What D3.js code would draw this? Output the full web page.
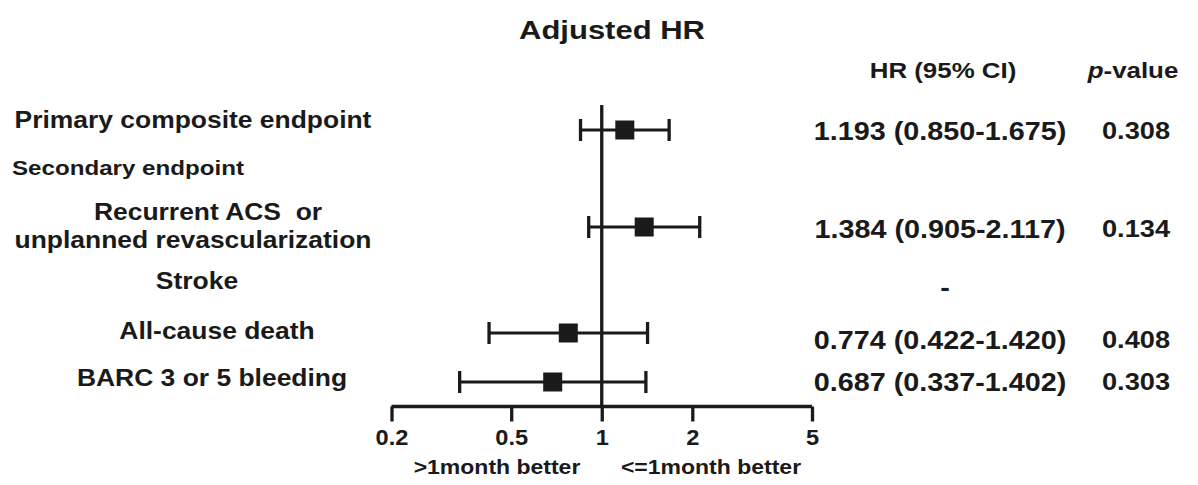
<!DOCTYPE html>
<html>
<head>
<meta charset="utf-8">
<script src="https://cdn.jsdelivr.net/npm/d3@7"></script>
<style>
  html, body { margin: 0; padding: 0; background: #fff; }
  svg { display: block; }
  text { font-family: "Liberation Sans", Arial, sans-serif; font-weight: bold; fill: #1a1a1a; white-space: pre; }
</style>
</head>
<body>
<svg id="chart" width="1198" height="485"></svg>
<script>
// ---------------- data ----------------
const endpoints = ["Primary composite endpoint", "Recurrent ACS or unplanned revascularization", "Stroke", "All-cause death", "BARC 3 or 5 bleeding"];
const hrValues = [1.193, 1.384, null, 0.774, 0.687];
const lowerCI = [0.850, 0.905, null, 0.422, 0.337];
const upperCI = [1.675, 2.117, null, 1.420, 1.402];
const hrText = ["1.193 (0.850-1.675)", "1.384 (0.905-2.117)", "-", "0.774 (0.422-1.420)", "0.687 (0.337-1.402)"];
const pValues = ["0.308", "0.134", "", "0.408", "0.303"];
const tickValues = [0.2, 0.5, 1, 2, 5];
const directionLabels = [">1month better", "<=1month better"];
const titleText = "Adjusted HR";
const sectionLabel = "Secondary endpoint";

// ---------------- layout ----------------
const SX = 1.15;           // horizontal stretch of the original typography
const ink = "#1a1a1a";
const svg = d3.select("#chart");

const x = d3.scaleLog().domain([0.2, 5]).range([391.5, 812]);
const yRow = d3.scaleOrdinal().domain(endpoints).range([130, 227, 281, 333, 382]);
const yText = d3.scaleOrdinal().domain(endpoints).range([131, 229, 287, 340, 382]);
const axisY = 406.5;

function addText(str, cx, cy, size, anchor, sx) {
  // cy = vertical centre of capitals
  return svg.append("text")
    .attr("transform", `translate(${cx},${cy + size * 0.358}) scale(${sx || SX},1)`)
    .attr("text-anchor", anchor || "middle")
    .attr("font-size", size)
    .text(str);
}

// title
addText(titleText, 612, 30, 26.5, "middle", 1.17);

// column headers
addText("HR (95% CI)", 943, 70, 22.5);
const pHead = svg.append("text")
  .attr("transform", `translate(1133,${70 + 22.5 * 0.358}) scale(${SX},1)`)
  .attr("text-anchor", "middle").attr("font-size", 22.5);
pHead.append("tspan").attr("font-style", "italic").text("p");
pHead.append("tspan").text("-value");

// left labels
const labelLayout = [
  { lines: [endpoints[0]], cx: 193, cy: [120], size: 23 },
  { lines: [sectionLabel], cx: 12, cy: [167], size: 21, anchor: "start" },
  { lines: ["Recurrent ACS  or", "unplanned revascularization"], cx: 0, cy: [212, 240], size: 23, cxs: [208, 193] },
  { lines: [endpoints[2]], cx: 197, cy: [281], size: 23 },
  { lines: [endpoints[3]], cx: 217, cy: [331], size: 23 },
  { lines: [endpoints[4]], cx: 212, cy: [378], size: 23 }
];
labelLayout.forEach(l => {
  l.lines.forEach((s, i) => addText(s, l.cxs ? l.cxs[i] : l.cx, l.cy[i], l.size, l.anchor));
});

// right-hand table
endpoints.forEach((e, i) => {
  addText(hrText[i], hrText[i] === "-" ? 945 : 940, yText(e), 25);
  if (pValues[i]) addText(pValues[i], 1136, yText(e), 23.7);
});

// axis
const tickSize = 22.5;
const axis = d3.axisBottom(x).tickValues(tickValues).tickFormat(d3.format("")).tickSize(15).tickSizeOuter(0).tickPadding(8);
const gAxis = svg.append("g").attr("transform", `translate(0,${axisY})`).call(axis);
gAxis.select(".domain").attr("stroke", ink).attr("stroke-width", 3.3)
  .attr("d", `M${x(0.2)},0H${x(5)}`);
gAxis.selectAll(".tick line").attr("stroke", ink).attr("stroke-width", 3.3);
gAxis.selectAll(".tick text")
  .attr("font-size", tickSize).attr("fill", ink)
  .attr("font-family", "Liberation Sans, Arial, sans-serif").attr("font-weight", "bold");
// stretch tick labels horizontally around their own anchor
gAxis.selectAll(".tick text").each(function () {
  const t = d3.select(this);
  const yy = +t.attr("y");
  t.attr("y", null).attr("dy", null)
   .attr("transform", `translate(0,${yy + tickSize * 0.71}) scale(1.05,1)`);
});

// reference line at HR = 1
svg.append("line")
  .attr("x1", x(1)).attr("x2", x(1))
  .attr("y1", 105).attr("y2", axisY)
  .attr("stroke", ink).attr("stroke-width", 3.3);

// direction labels
addText(directionLabels[0], 497, 467, 20);
addText(directionLabels[1], 711, 467, 20);

// CI bars and markers
const rows = endpoints.map((e, i) => ({ e, hr: hrValues[i], lo: lowerCI[i], hi: upperCI[i] })).filter(d => d.hr != null);
const g = svg.append("g");
const capH = 22, box = 19;
rows.forEach(d => {
  const y = yRow(d.e);
  g.append("line").attr("x1", x(d.lo)).attr("x2", x(d.hi)).attr("y1", y).attr("y2", y)
    .attr("stroke", ink).attr("stroke-width", 3.2);
  [d.lo, d.hi].forEach(v => {
    g.append("line").attr("x1", x(v)).attr("x2", x(v)).attr("y1", y - capH / 2).attr("y2", y + capH / 2)
      .attr("stroke", ink).attr("stroke-width", 3.3);
  });
  g.append("rect").attr("x", x(d.hr) - box / 2).attr("y", y - box / 2)
    .attr("width", box).attr("height", box).attr("fill", ink);
});
</script>
</body>
</html>
